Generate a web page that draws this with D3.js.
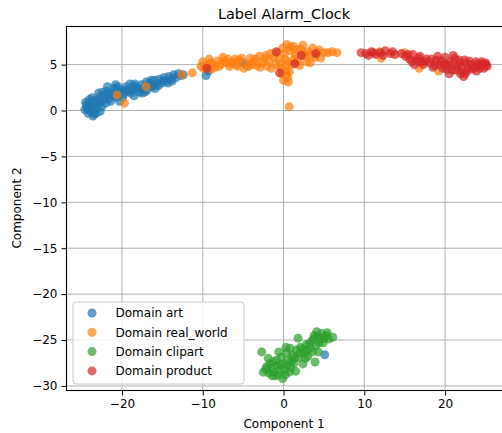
<!DOCTYPE html>
<html>
<head>
<meta charset="utf-8">
<script src="https://cdn.jsdelivr.net/npm/d3@7"></script>
<style>
  html, body { margin: 0; padding: 0; background: #fff; }
  svg { display: block; font-family: "DejaVu Sans", sans-serif; }
</style>
</head>
<body>
<svg id="chart" width="502" height="433"></svg>
<script>
// Embedding coordinates per domain, [component 1, component 2]
const artPoints = [
  [-24.3,0.2],[-24.1,0.8],[-23.9,-0.1],[-23.6,0.5],[-23.4,1.1],[-23.8,0.4],[-24.4,0.6],[-23.2,-0.3],
  [-23.0,0.7],[-22.8,1.4],[-23.5,-0.4],[-24.0,1.2],[-22.6,0.9],[-22.3,1.6],[-21.9,2.1],[-21.6,1.3],
  [-21.3,1.9],[-21.0,2.4],[-20.7,1.5],[-20.4,2.0],[-21.8,2.6],[-20.1,2.2],[-19.8,1.8],[-19.5,2.6],
  [-19.2,2.1],[-18.8,2.3],[-18.5,1.6],[-18.2,2.5],[-17.9,2.0],[-17.6,2.8],[-17.3,2.4],[-16.9,2.2],
  [-16.6,3.0],[-16.3,2.6],[-16.0,3.3],[-15.7,2.9],[-15.4,3.4],[-15.1,3.0],[-14.8,3.6],[-14.5,3.2],
  [-14.2,3.7],[-13.9,3.4],[-13.6,3.9],[-13.3,3.6],[-13.0,4.0],[-12.7,3.8],[-15.9,2.4],[-17.0,3.1],
  [-19.0,2.9],[-20.3,1.0],[-22.0,0.8],[-9.6,3.8],[-9.3,4.3],[-5.1,5.2],[-4.6,4.9],[5.1,-26.6],
  [-24.6,0.1],[-24.5,0.9],[-24.2,-0.3],[-23.7,1.4],[-23.3,0.2],[-22.9,1.9],[-22.5,0.4],[-22.2,1.2],
  [-21.4,1.0],[-21.1,1.6],[-20.9,2.0],[-20.5,2.6],[-19.9,1.4],[-19.6,2.2],[-18.9,1.9],[-18.4,2.9],
  [-17.8,2.4],[-17.2,2.0],[-16.7,2.6],[-16.1,2.8],[-15.5,2.7],[-14.9,3.2],[-14.3,3.0],[-13.8,3.2],
  [-23.1,1.0],[-24.2,0.4],[-22.7,-0.1],[-21.7,1.8],[-20.8,2.8],[-18.6,2.7],[-17.5,1.9],[-16.4,3.3],
  [-23.6,-0.6],[-23.9,0.9],[-22.4,2.0],[-12.4,3.9]
];
const realWorldPoints = [
  [-20.6,1.7],[-19.7,0.8],[-17.0,2.6],[-12.6,3.9],[-11.3,4.1],[-10.2,4.8],
  [-10.0,5.3],[-9.6,4.9],[-9.2,5.6],[-8.8,5.1],[-8.5,4.7],[-8.2,5.4],[-7.8,5.0],[-7.5,5.8],
  [-7.1,5.2],[-6.7,4.8],[-6.3,5.3],[-5.9,5.0],[-5.5,5.5],[-4.9,4.6],[-4.5,5.1],[-4.1,5.7],
  [-3.7,5.3],[-3.3,4.9],[-3.0,5.9],[-2.6,5.2],[-2.2,6.0],[-1.8,5.4],[-1.5,4.6],[-1.2,5.8],
  [-0.8,6.3],[-0.4,5.1],[-0.1,6.8],[0.2,5.6],[0.3,4.3],[0.5,3.6],[0.6,3.1],[0.4,7.2],
  [0.8,6.5],[1.0,5.0],[1.2,7.0],[1.5,6.1],[1.8,5.4],[2.1,6.7],[2.4,7.1],[2.7,5.9],
  [3.0,6.4],[3.3,5.2],[3.6,6.8],[3.9,5.8],[4.2,6.3],[4.6,5.7],[5.0,6.3],[5.5,6.3],
  [6.0,6.4],[6.6,6.3],[-0.2,4.0],[0.0,3.3],[0.7,0.4],[-1.0,5.0],[-2.9,4.7],[-6.0,5.6],
  [-8.9,4.5],[2.0,4.9],[11.9,6.4],[12.1,5.7],[15.0,6.3],[16.8,4.6],[19.2,4.3],
  [-9.9,4.6],[-9.0,5.2],[-8.0,4.8],[-7.3,5.4],[-6.5,5.1],[-5.7,4.8],[-5.2,5.7],[-3.9,5.0],
  [-3.5,5.6],[-2.4,5.6],[-2.0,4.8],[-1.6,6.2],[-0.6,5.7],[0.1,6.2],[0.6,5.3],[0.9,6.9],
  [1.3,5.6],[1.7,6.6],[2.5,6.2],[2.9,5.3],[3.4,6.1],[4.4,6.6],[0.2,4.8],[0.7,4.2],
  [-0.3,4.6],[0.4,3.9],[-4.3,4.8],[-6.9,5.6]
];
const clipartPoints = [
  [-2.7,-26.3],[-2.5,-28.5],[-2.1,-27.9],[-1.8,-28.6],[-1.5,-28.1],[-1.3,-27.4],[-1.0,-28.9],
  [-0.8,-27.8],[-0.5,-28.3],[-0.3,-26.9],[0.0,-27.6],[0.2,-28.8],[0.4,-26.4],[0.6,-27.2],
  [0.9,-28.0],[1.1,-26.7],[1.3,-27.5],[1.6,-26.1],[1.9,-26.9],[2.1,-25.8],[2.4,-27.6],
  [2.6,-26.4],[2.8,-25.5],[3.0,-26.8],[3.3,-25.9],[3.5,-25.1],[3.7,-24.9],[4.0,-25.6],
  [4.2,-24.6],[4.4,-25.3],[4.7,-24.3],[5.0,-24.8],[5.3,-24.5],[5.6,-24.9],[6.1,-24.7],
  [4.3,-26.3],[3.9,-27.4],[-0.6,-26.3],[0.3,-25.8],[1.8,-24.8],[-1.9,-27.0],[-0.1,-29.2],
  [1.5,-28.4],[2.7,-27.0],[0.8,-25.9],
  [-2.2,-28.2],[-1.7,-27.6],[-1.2,-28.5],[-0.9,-27.2],[-0.4,-27.7],[0.1,-28.2],[0.5,-27.8],
  [1.0,-27.3],[1.4,-26.9],[2.0,-26.4],[2.3,-26.0],[2.9,-26.1],[3.2,-25.4],[3.8,-24.5],
  [4.5,-24.9],[4.9,-25.3],[5.4,-24.2],[4.1,-24.1],[-1.4,-28.9],[-0.7,-28.8],[0.7,-28.5],
  [3.6,-26.3]
];
const productPoints = [
  [-9.5,4.6],[-0.9,6.4],[-0.5,4.1],[1.4,5.1],[2.2,6.0],[4.0,6.2],
  [9.6,6.3],[10.2,6.2],[10.9,6.4],[11.4,6.1],[12.0,6.3],[12.6,6.5],[13.2,6.2],[13.8,6.1],
  [14.6,6.2],[15.1,5.9],[15.6,5.6],[16.0,6.1],[16.5,5.4],[16.9,5.9],[17.3,5.0],[17.7,5.6],
  [18.1,5.2],[18.5,4.7],[18.9,5.5],[19.3,5.0],[19.7,4.6],[20.0,5.8],[20.3,4.9],[20.6,5.3],
  [20.9,4.4],[21.2,5.7],[21.5,4.8],[21.8,5.1],[22.1,4.2],[22.3,3.7],[22.6,5.2],[22.9,4.6],
  [23.2,5.0],[23.6,4.7],[24.0,5.1],[24.3,4.6],[24.7,4.9],[25.0,5.2],[25.2,4.8],[19.1,5.9],
  [21.0,6.0],[17.0,5.3],[13.5,6.4],[16.2,5.0],[22.4,5.5],[20.5,4.0],[24.5,5.3],[23.9,4.3],
  [10.5,6.0],[11.1,6.3],[12.3,6.0],[15.4,6.1],[15.9,5.3],[16.7,5.7],[17.5,5.3],[18.3,5.6],
  [18.7,4.9],[19.5,5.4],[19.9,5.0],[20.2,4.5],[20.8,5.0],[21.3,4.4],[21.7,5.5],[22.0,4.8],
  [22.7,4.3],[23.0,5.4],[23.4,4.5],[23.8,5.3],[24.2,4.9],[24.8,4.6],[25.1,5.0],[24.6,5.1],
  [21.9,4.0],[22.5,4.0]
];

const domainNames = ["Domain art", "Domain real_world", "Domain clipart", "Domain product"];
const domainColors = ["#1f77b4", "#ff7f0e", "#2ca02c", "#d62728"];
const domainPoints = [artPoints, realWorldPoints, clipartPoints, productPoints];

const xTicks = [-20, -10, 0, 10, 20];
const yTicks = [5, 0, -5, -10, -15, -20, -25, -30];

const svg = d3.select("#chart");
const plot = { left: 66.5, top: 26.5, right: 503, bottom: 390.5 };

const x = d3.scaleLinear().domain([-26.87, 27.17]).range([plot.left, plot.right]);
const y = d3.scaleLinear().domain([9.15, -30.5]).range([plot.top, plot.bottom]);

const fmt = d => d < 0 ? "\u2212" + Math.abs(d) : String(d);

// grid
const grid = svg.append("g");
grid.selectAll("line.gx").data(xTicks).join("line")
  .attr("x1", d => x(d)).attr("x2", d => x(d))
  .attr("y1", plot.top).attr("y2", plot.bottom)
  .attr("stroke", "#b0b0b0").attr("stroke-width", 1);
grid.selectAll("line.gy").data(yTicks).join("line")
  .attr("x1", plot.left).attr("x2", plot.right)
  .attr("y1", d => y(d)).attr("y2", d => y(d))
  .attr("stroke", "#b0b0b0").attr("stroke-width", 1);

// points
svg.append("clipPath").attr("id", "plotclip").append("rect")
  .attr("x", plot.left).attr("y", plot.top)
  .attr("width", plot.right - plot.left).attr("height", plot.bottom - plot.top);
const pts = svg.append("g").attr("clip-path", "url(#plotclip)");
domainPoints.forEach((series, i) => {
  pts.append("g").selectAll("circle").data(series).join("circle")
    .attr("cx", d => x(d[0])).attr("cy", d => y(d[1]))
    .attr("r", 4.5)
    .attr("fill", domainColors[i]).attr("fill-opacity", 0.7);
});

// axes
const xAxis = d3.axisBottom(x).tickValues(xTicks).tickFormat(fmt).tickSize(5).tickPadding(4);
const yAxis = d3.axisLeft(y).tickValues(yTicks).tickFormat(fmt).tickSize(5).tickPadding(4);

const gx = svg.append("g").attr("transform", `translate(0,${plot.bottom})`).call(xAxis);
const gy = svg.append("g").attr("transform", `translate(${plot.left},0)`).call(yAxis);
[gx, gy].forEach(g => {
  g.select(".domain").remove();
  g.selectAll("text").attr("font-size", 12).attr("fill", "#000").attr("font-family", "DejaVu Sans");
  g.selectAll("line").attr("stroke", "#000").attr("stroke-width", 1);
});

// frame
svg.append("rect")
  .attr("x", plot.left).attr("y", plot.top)
  .attr("width", plot.right - plot.left).attr("height", plot.bottom - plot.top)
  .attr("fill", "none").attr("stroke", "#000").attr("stroke-width", 1.1);

// title and axis labels
svg.append("text").attr("x", 284).attr("y", 19)
  .attr("text-anchor", "middle").attr("font-size", 14.4).text("Label Alarm_Clock");
svg.append("text").attr("x", 284).attr("y", 428)
  .attr("text-anchor", "middle").attr("font-size", 12).text("Component 1");
svg.append("text").attr("transform", "translate(21,208) rotate(-90)")
  .attr("text-anchor", "middle").attr("font-size", 12).text("Component 2");

// legend
const lg = svg.append("g").attr("transform", "translate(73,302)");
lg.append("rect").attr("width", 171).attr("height", 82).attr("rx", 3)
  .attr("fill", "#fff").attr("fill-opacity", 0.8)
  .attr("stroke", "#cccccc").attr("stroke-width", 1);
domainNames.forEach((name, i) => {
  const row = lg.append("g").attr("transform", `translate(0,${11 + i * 19.3})`);
  row.append("circle").attr("cx", 19).attr("cy", 0).attr("r", 4.5)
    .attr("fill", domainColors[i]).attr("fill-opacity", 0.7);
  row.append("text").attr("x", 42.5).attr("y", 4.3).attr("font-size", 12).text(name);
});
</script>
</body>
</html>
